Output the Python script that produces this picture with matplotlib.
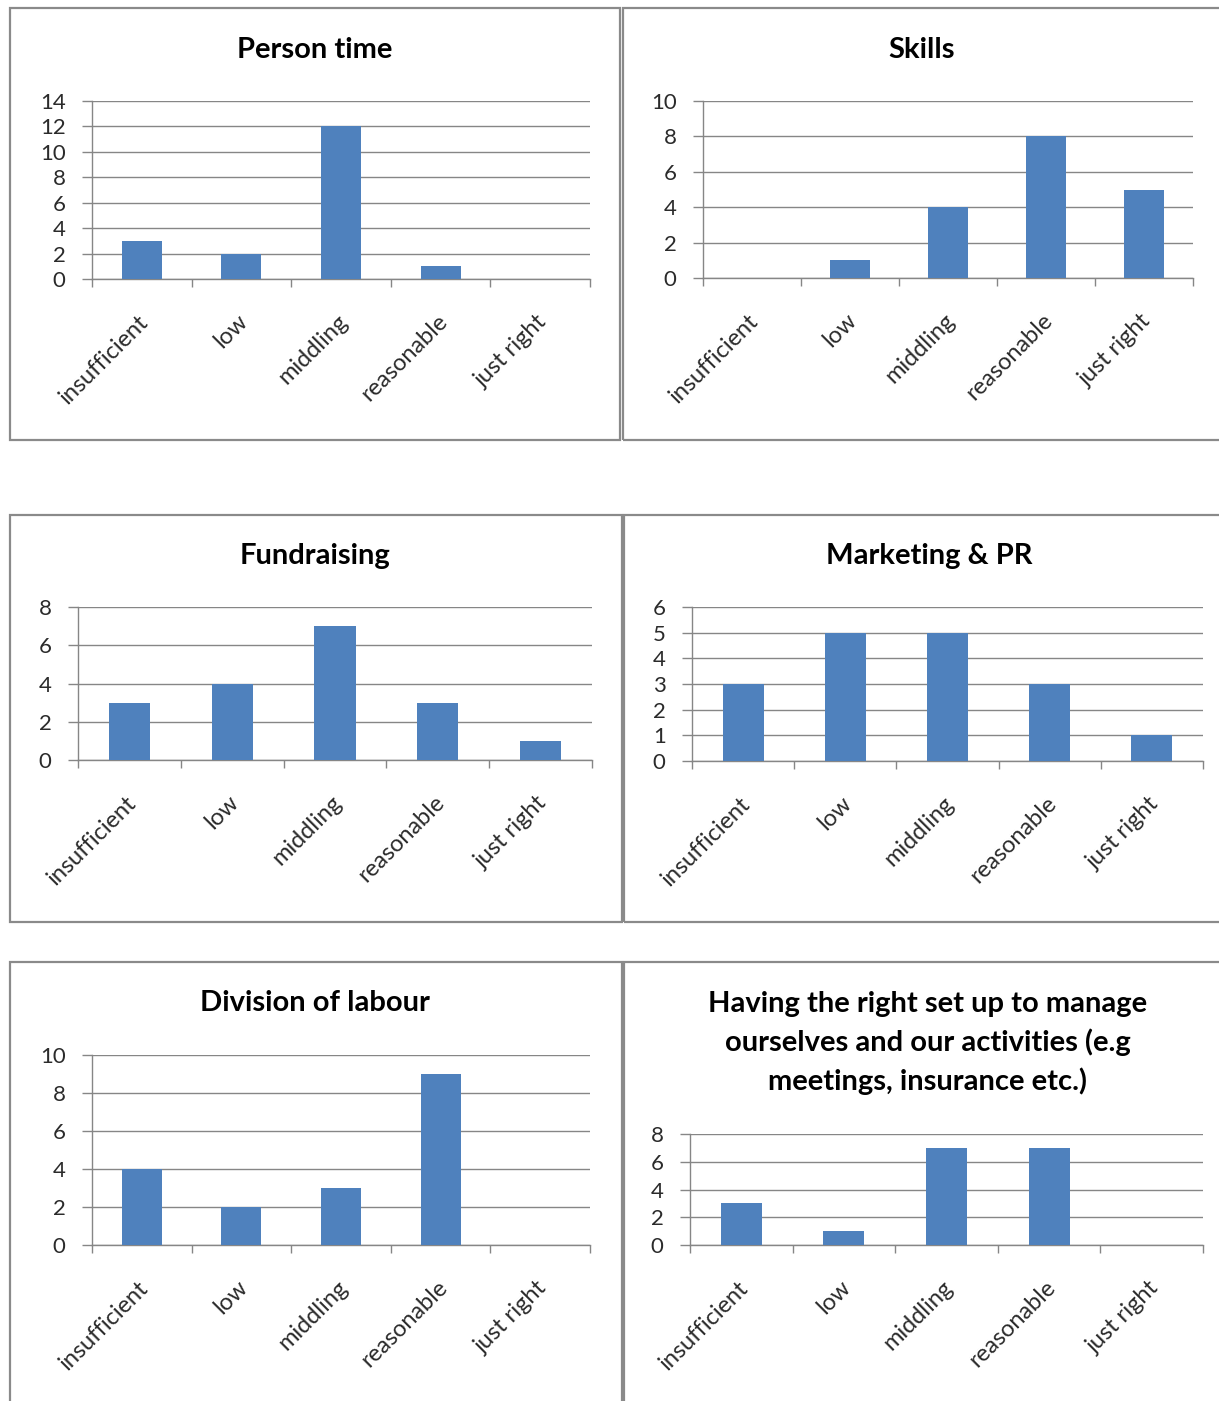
import matplotlib
matplotlib.use("Agg")
import matplotlib.pyplot as plt
from matplotlib.patches import Rectangle
from matplotlib.transforms import ScaledTranslation

plt.rcParams["font.family"] = ["Lato", "DejaVu Sans"]

W, H = 1219, 1401

categories = ["insufficient", "low", "middling", "reasonable", "just right"]

titles = [
    "Person time",
    "Skills",
    "Fundraising",
    "Marketing & PR",
    "Division of labour",
    "Having the right set up to manage\nourselves and our activities (e.g\nmeetings, insurance etc.)",
]
person_time = [3, 2, 12, 1, 0]
skills = [0, 1, 4, 8, 5]
fundraising = [3, 4, 7, 3, 1]
marketing_pr = [3, 5, 5, 3, 1]
division_of_labour = [4, 2, 3, 9, 0]
set_up = [3, 1, 7, 7, 0]
series = [person_time, skills, fundraising, marketing_pr, division_of_labour, set_up]

y_max = [14, 10, 8, 6, 10, 8]
y_step = [2, 2, 2, 1, 2, 2]

# panel frames in pixels: left, top, right, bottom
frames = [
    (10, 8, 620, 440),
    (623, 8, 1240, 440),
    (10, 515, 622, 922),
    (624, 515, 1240, 922),
    (10, 962, 622, 1420),
    (624, 962, 1240, 1420),
]
# plot areas in pixels: left, top, right, bottom
plots = [
    (92, 101, 590, 279),
    (703, 101, 1193, 278),
    (78, 607, 592, 760),
    (692, 607, 1203, 761),
    (92, 1055, 590, 1245),
    (690, 1134, 1203, 1245),
]
title_xy = [(315, 50), (922, 50), (315, 556), (929, 556), (315, 1003), (928, 1043)]

BAR = "#4F81BD"
GRID = "#868686"
TEXT = "#2B2B2B"

fig = plt.figure(figsize=(W / 100, H / 100), dpi=100)

for i in range(6):
    fl, ft, fr, fb = frames[i]
    fig.patches.append(Rectangle((fl / W, 1 - fb / H), (fr - fl) / W, (fb - ft) / H,
                                 transform=fig.transFigure, fill=False,
                                 edgecolor="#8A8A8A", linewidth=1.6))
    tx, ty = title_xy[i]
    fig.text(tx / W, 1 - ty / H, titles[i], ha="center", va="center", ma="center",
             fontsize=21, fontweight="bold", color="black", linespacing=1.5)

    pl, pt, pr, pb = plots[i]
    ax = fig.add_axes([pl / W, 1 - pb / H, (pr - pl) / W, (pb - pt) / H])
    ax.bar(range(len(categories)), series[i], width=0.4, color=BAR, zorder=3)
    ax.set_xlim(-0.5, len(categories) - 0.5)
    ax.set_ylim(0, y_max[i])
    ax.set_yticks(range(0, y_max[i] + 1, y_step[i]))
    ax.yaxis.grid(True, color=GRID, linewidth=1.0, zorder=0)
    ax.tick_params(axis="y", direction="out", length=7, width=1.0, color=GRID,
                   labelsize=16, labelcolor=TEXT, pad=12)

    ax.set_xticks(range(len(categories)))
    ax.set_xticklabels(categories, rotation=45, ha="right", rotation_mode="anchor",
                       fontsize=17, color=TEXT)
    ax.tick_params(axis="x", which="major", length=0, pad=23)
    for lab in ax.get_xticklabels():
        lab.set_transform(lab.get_transform() + ScaledTranslation(-3 / 72, 0, fig.dpi_scale_trans))
    ax.set_xticks([k - 0.5 for k in range(len(categories) + 1)], minor=True)
    ax.tick_params(axis="x", which="minor", direction="out", length=6, width=1.0, color=GRID)

    for side in ("top", "right"):
        ax.spines[side].set_visible(False)
    for side in ("left", "bottom"):
        ax.spines[side].set_color(GRID)
        ax.spines[side].set_linewidth(1.0)
    ax.set_facecolor("none")

fig.savefig("out.png", dpi=100)
